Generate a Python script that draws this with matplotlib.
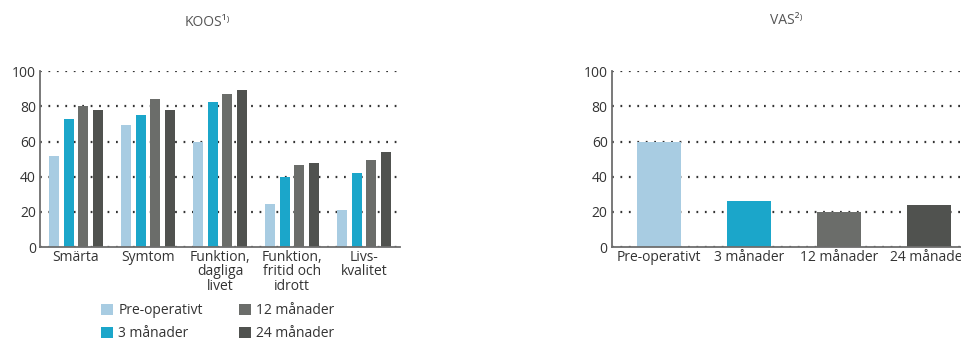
import numpy as np
import matplotlib
matplotlib.use('Agg')
import matplotlib.pyplot as plt

plt.rcParams['font.family'] = ['Open Sans', 'DejaVu Sans']

# KOOS data
koos_categories = ['Smärta', 'Symtom', 'Funktion,\ndagliga\nlivet',
                   'Funktion,\nfritid och\nidrott', 'Livs-\nkvalitet']
series_names = ['Pre-operativt', '3 månader', '12 månader', '24 månader']
koos_pre = [52, 69.5, 59.5, 24.5, 21]
koos_3m = [73, 75, 82.7, 40, 42]
koos_12m = [80, 84, 87, 46.5, 49.7]
koos_24m = [78, 78, 89.4, 47.6, 54]

# VAS data
vas_categories = ['Pre-operativt', '3 månader', '12 månader', '24 månader']
vas_values = [60, 26, 19.7, 23.8]

colors = ['#a8cce2', '#1ba6ca', '#6b6d6a', '#50524f']
yticks = [0, 20, 40, 60, 80, 100]


def style_axes(ax):
    ax.set_ylim(0, 100)
    ax.set_yticks(yticks)
    for s in ['top', 'right']:
        ax.spines[s].set_visible(False)
    for s in ['left', 'bottom']:
        ax.spines[s].set_color('#6e6e6e')
        ax.spines[s].set_linewidth(1.3)
    ax.tick_params(axis='both', length=0, labelsize=10, colors='#333333')
    ax.tick_params(axis='y', pad=3)
    ax.tick_params(axis='x', pad=2)
    ax.yaxis.grid(True, linestyle=(0, (0.8, 3.0)), linewidth=1.6, color='#333333')
    ax.set_axisbelow(True)


fig = plt.figure(figsize=(9.62, 3.40), dpi=100)

# left chart: KOOS
ax1 = fig.add_axes([0.0416, 0.2735, 0.3742, 0.5168])
x = np.arange(len(koos_categories))
width = 0.139
pitch = 0.204
koos_series = [koos_pre, koos_3m, koos_12m, koos_24m]
handles = []
for i, vals in enumerate(koos_series):
    b = ax1.bar(x + (i - 1.5) * pitch, vals, width, color=colors[i], label=series_names[i])
    handles.append(b)
ax1.set_xlim(-0.5, 4.5)
ax1.set_xticks(x)
ax1.set_xticklabels(koos_categories, linespacing=0.95)
style_axes(ax1)

# right chart: VAS (right edge runs past the figure, as in the original)
ax2 = fig.add_axes([0.636, 0.2735, 0.3857, 0.5168])
x2 = np.arange(len(vas_categories))
ax2.bar(x2, vas_values, 0.49, color=colors)
ax2.set_xlim(-0.52, 3.6)
ax2.set_xticks(x2)
ax2.set_xticklabels(vas_categories)
style_axes(ax2)

# titles
fig.text(207 / 962, 1 - 22 / 340, 'KOOS¹⁾', ha='center', va='center',
         fontsize=10, color='#555555', fontweight='medium')
fig.text(786 / 962, 1 - 21 / 340, 'VAS²⁾', ha='center', va='center',
         fontsize=10, color='#555555', fontweight='medium')

fig.legend(handles=handles, labels=series_names, ncol=2, loc='upper left',
           bbox_to_anchor=(101 / 962, 1 - 303 / 340), frameon=False,
           fontsize=10, handlelength=0.85, handleheight=0.85, handletextpad=0.4,
           columnspacing=2.6, labelspacing=0.6, borderpad=0, borderaxespad=0,
           labelcolor='#333333')

fig.savefig('out.png', dpi=100)
